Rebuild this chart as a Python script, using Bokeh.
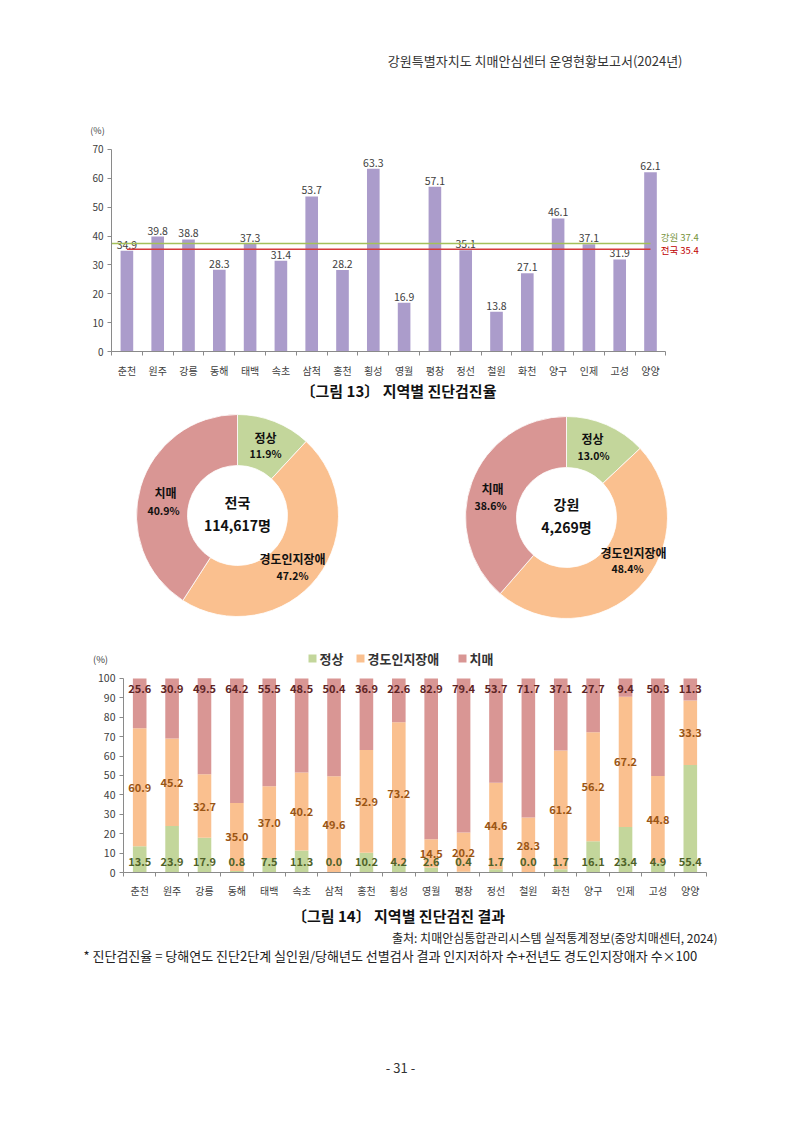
import math
from bokeh.plotting import figure
from bokeh.layouts import column
from bokeh.models import Range1d, FixedTicker, ColumnDataSource, LinearAxis
from bokeh.core.properties import value
from bokeh.embed import file_html
from bokeh.resources import INLINE

# ---------------- data ----------------
regions = ["춘천", "원주", "강릉", "동해", "태백", "속초", "삼척", "홍천", "횡성",
           "영월", "평창", "정선", "철원", "화천", "양구", "인제", "고성", "양양"]
rate = [34.9, 39.8, 38.8, 28.3, 37.3, 31.4, 53.7, 28.2, 63.3,
        16.9, 57.1, 35.1, 13.8, 27.1, 46.1, 37.1, 31.9, 62.1]
gangwon_rate = 37.4
national_rate = 35.4
rate_ticks = [0, 10, 20, 30, 40, 50, 60, 70]

normal = [13.5, 23.9, 17.9, 0.8, 7.5, 11.3, 0.0, 10.2, 4.2,
          2.6, 0.4, 1.7, 0.0, 1.7, 16.1, 23.4, 4.9, 55.4]
mci = [60.9, 45.2, 32.7, 35.0, 37.0, 40.2, 49.6, 52.9, 73.2,
       14.5, 20.2, 44.6, 28.3, 61.2, 56.2, 67.2, 44.8, 33.3]
dementia = [25.6, 30.9, 49.5, 64.2, 55.5, 48.5, 50.4, 36.9, 22.6,
            82.9, 79.4, 53.7, 71.7, 37.1, 27.7, 9.4, 50.3, 11.3]
share_ticks = [0, 10, 20, 30, 40, 50, 60, 70, 80, 90, 100]

donut_groups = ["정상", "경도인지장애", "치매"]
national_share = [11.9, 47.2, 40.9]
gangwon_share = [13.0, 48.4, 38.6]
national_title = "전국"
national_total = "114,617명"
gangwon_title = "강원"
gangwon_total = "4,269명"

header_text = "강원특별자치도 치매안심센터 운영현황보고서(2024년)"
unit_text = "(%)"
caption13 = "〔그림 13〕 지역별 진단검진율"
caption14 = "〔그림 14〕 지역별 진단검진 결과"
source_text = "출처: 치매안심통합관리시스템 실적통계정보(중앙치매센터, 2024)"
note_text = "* 진단검진율 = 당해연도 진단2단계 실인원/당해년도 선별검사 결과 인지저하자 수+전년도 경도인지장애자 수×100"
page_text = "- 31 -"

# ---------------- style ----------------
FONT = "Noto Sans CJK KR"
BAR_COLOR = "#ab9ccb"
C_NORMAL = "#c3d69b"
C_MCI = "#fac08f"
C_DEM = "#d99694"
AXIS_COLOR = "#8a8a8a"
LABEL_COLOR = "#404040"


def page_fig(top, bottom):
    p = figure(width=800, height=bottom - top, x_range=Range1d(0, 800),
               y_range=Range1d(-bottom, -top), output_backend="svg",
               toolbar_location=None, x_axis_type=None, y_axis_type=None,
               min_border=0)
    p.outline_line_color = None
    p.frame_align = False
    return p


def txt(p, x, y, t, size, color="#222222", align="left", bold=False, **kw):
    p.text(x=x, y=y, text=t, text_font=value(FONT), text_font_size=size,
           text_color=color, text_align=align, text_baseline="middle",
           text_font_style="bold" if bold else "normal", **kw)


def style_axis(ax, size):
    ax.axis_line_color = AXIS_COLOR
    ax.major_tick_line_color = AXIS_COLOR
    ax.minor_tick_line_color = AXIS_COLOR
    ax.major_tick_in = 0
    ax.major_tick_out = 4
    ax.minor_tick_in = 0
    ax.minor_tick_out = 4
    ax.major_label_text_font = FONT
    ax.major_label_text_font_size = size
    ax.major_label_text_color = LABEL_COLOR


# ---------------- header (+ unit of first chart) ----------------
pA = page_fig(0, 140)
txt(pA, [682], [-60], [header_text], "13px", "#333333", "right")
txt(pA, [97], [-130], [unit_text], "9px", LABEL_COLOR, "center")

# ---------------- bar chart (rate) ----------------
xs = list(range(len(regions)))
PXB = 30.8
pB = figure(width=800, height=240,
            x_range=Range1d(-0.5, -0.5 + 604 / PXB),
            y_range=Range1d(0, 212 / 2.943),
            output_backend="svg", toolbar_location=None,
            x_axis_type=None, y_axis_type=None,
            min_border_left=111, min_border_right=85,
            min_border_top=3, min_border_bottom=25)
pB.outline_line_color = None
pB.frame_align = False

yB = LinearAxis(ticker=FixedTicker(ticks=rate_ticks), bounds=(0, 70))
xB = LinearAxis(ticker=FixedTicker(ticks=xs, minor_ticks=[i - 0.5 for i in range(len(regions) + 1)]),
                bounds=(-0.5, len(regions) - 0.5),
                major_label_overrides={i: r for i, r in enumerate(regions)})
style_axis(yB, "10px")
style_axis(xB, "10px")
xB.major_tick_line_color = None
xB.major_label_standoff = 7
yB.major_label_standoff = 4
pB.add_layout(yB, "left")
pB.add_layout(xB, "below")

srcB = ColumnDataSource(dict(x=xs, rate=rate, lab=[f"{v:.1f}" for v in rate]))
pB.vbar(x="x", top="rate", width=0.41, source=srcB, fill_color=BAR_COLOR, line_color=None)
pB.text(x="x", y="rate", text="lab", source=srcB, text_font=value(FONT),
        text_font_size="10.5px", text_color=LABEL_COLOR, text_align="center",
        text_baseline="bottom", y_offset=-2)
pB.line(x=[-0.5, xs[-1]], y=[gangwon_rate, gangwon_rate], line_color="#a4c05a", line_width=1.6)
pB.line(x=[xs[0], xs[-1]], y=[national_rate, national_rate], line_color="#d63a3a", line_width=1.6)
txt(pB, [xs[-1] + 0.33], [gangwon_rate], [f"강원 {gangwon_rate}"], "9.5px", "#77933c", y_offset=-7)
txt(pB, [xs[-1] + 0.33], [national_rate], [f"전국 {national_rate}"], "9.5px", "#c00000", y_offset=1)

# ---------------- donuts (+ legend / unit of second chart) ----------------
pD = page_fig(380, 668)
txt(pD, [398], [-390], [caption13], "15px", "#111111", "center", bold=True)


def donut(p, cx, cy, shares, title, total, name_pos, pct_pos):
    cum = [0.0]
    for s in shares:
        cum.append(cum[-1] + s)
    starts = [math.pi / 2 - 2 * math.pi * c / 100 for c in cum[:-1]]
    ends = [math.pi / 2 - 2 * math.pi * c / 100 for c in cum[1:]]
    p.annular_wedge(x=[cx] * 3, y=[-cy] * 3, inner_radius=50, outer_radius=101,
                    start_angle=starts, end_angle=ends, direction="clock",
                    fill_color=[C_NORMAL, C_MCI, C_DEM], line_color="white", line_width=0.8)
    txt(p, [cx], [-(cy - 14)], [title], "14px", "#111111", "center", bold=True)
    txt(p, [cx], [-(cy + 9)], [total], "14px", "#111111", "center", bold=True)
    txt(p, [q[0] for q in name_pos], [-q[1] for q in name_pos], donut_groups,
        "12px", "#111111", "center", bold=True)
    txt(p, [q[0] for q in pct_pos], [-q[1] for q in pct_pos], [f"{s:.1f}%" for s in shares],
        "10.5px", "#111111", "center", bold=True)


donut(pD, 237, 515, national_share, national_title, national_total,
      [(265, 437), (292, 558), (165, 492)], [(265, 453), (292, 575), (163, 510)])
donut(pD, 566, 517, gangwon_share, gangwon_title, gangwon_total,
      [(592, 438), (633, 552), (492, 488)], [(593, 455), (627, 568), (490, 505)])

# legend of stacked chart
pD.scatter(x=[312, 360, 462], y=[-658] * 3, marker="square", size=8,
           fill_color=[C_NORMAL, C_MCI, C_DEM], line_color=None)
txt(pD, [319, 367, 469], [-658] * 3, donut_groups, "13px", "#333333", "left", bold=True)
txt(pD, [100], [-658], [unit_text], "9.5px", LABEL_COLOR, "center")

# ---------------- stacked chart ----------------
pE = figure(width=800, height=232,
            x_range=Range1d(-0.5, len(regions) - 0.5),
            y_range=Range1d(0, 203 / 1.95),
            output_backend="svg", toolbar_location=None,
            x_axis_type=None, y_axis_type=None,
            min_border_left=123, min_border_right=94,
            min_border_top=2, min_border_bottom=27)
pE.outline_line_color = None
pE.frame_align = False

yE = LinearAxis(ticker=FixedTicker(ticks=share_ticks), bounds=(0, 100))
xE = LinearAxis(ticker=FixedTicker(ticks=xs, minor_ticks=[i - 0.5 for i in range(len(regions) + 1)]),
                bounds=(-0.5, len(regions) - 0.5),
                major_label_overrides={i: r for i, r in enumerate(regions)})
style_axis(yE, "10.5px")
style_axis(xE, "10px")
xE.major_tick_line_color = None
xE.major_label_standoff = 6
yE.major_label_standoff = 4
pE.add_layout(yE, "left")
pE.add_layout(xE, "below")

srcE = ColumnDataSource(dict(
    x=xs, normal=normal, mci=mci, dementia=dementia,
    mid=[n + m / 2 for n, m in zip(normal, mci)],
    top=[100] * len(xs), bottom=[0] * len(xs),
    l_n=[f"{v:.1f}" for v in normal], l_m=[f"{v:.1f}" for v in mci],
    l_d=[f"{v:.1f}" for v in dementia]))
pE.vbar_stack(["normal", "mci", "dementia"], x="x", width=0.42, source=srcE,
              fill_color=[C_NORMAL, C_MCI, C_DEM], line_color=None)
common = dict(source=srcE, text_font=value(FONT), text_font_size="11px",
              text_font_style="bold", text_align="center", text_baseline="middle")
pE.text(x="x", y="top", text="l_d", text_color="#5e2424", y_offset=10, **common)
pE.text(x="x", y="mid", text="l_m", text_color="#9a5514", **common)
pE.text(x="x", y="bottom", text="l_n", text_color="#4f6228", y_offset=-11, **common)

# ---------------- footer ----------------
pF = page_fig(900, 1131)
txt(pF, [398], [-915], [caption14], "15px", "#111111", "center", bold=True)
txt(pF, [717], [-937], [source_text], "12px", "#222222", "right")
txt(pF, [83], [-955], [note_text], "13px", "#222222", "left")
txt(pF, [400], [-1067], [page_text], "13px", "#333333", "center")

layout = column(pA, pB, pD, pE, pF, spacing=0)
open("out.html", "w").write(file_html(layout, INLINE))
